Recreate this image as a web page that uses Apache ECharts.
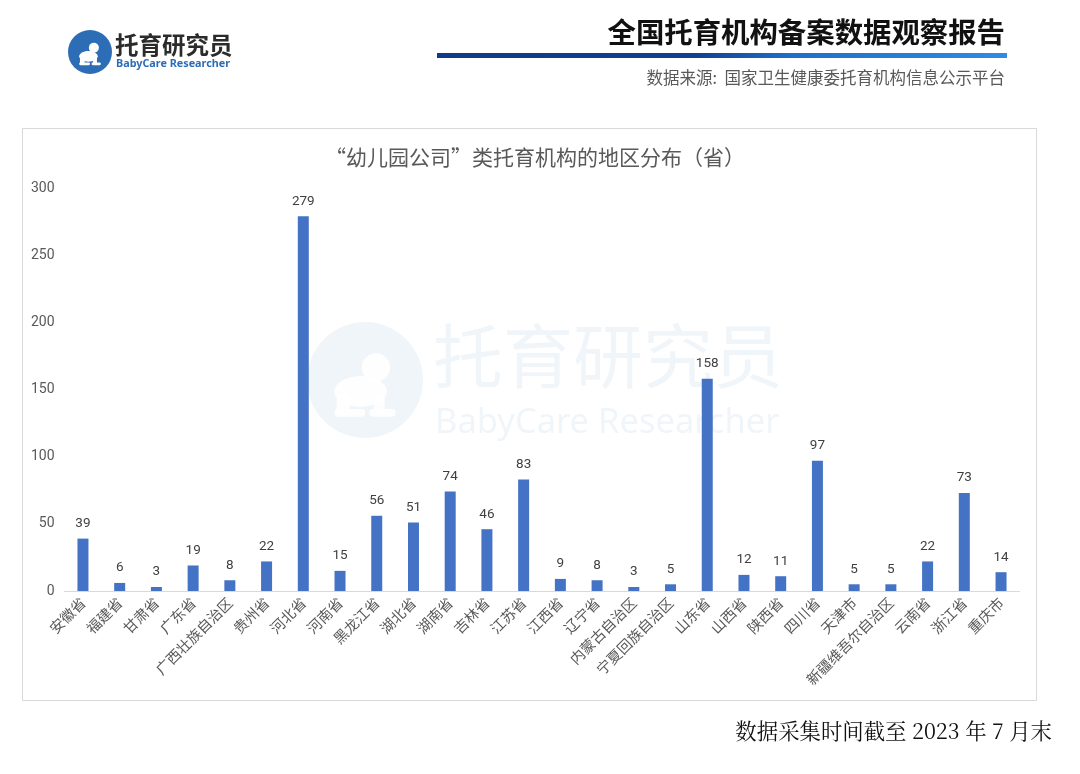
<!DOCTYPE html>
<html><head><meta charset="utf-8">
<script src="https://cdn.jsdelivr.net/npm/echarts@6/dist/echarts.min.js"></script>
<style>html,body{margin:0;padding:0;background:#fff}#c{width:1080px;height:774px}</style>
</head><body><div id="c"></div>
<script>
const categories = ['安徽省','福建省','甘肃省','广东省','广西壮族自治区','贵州省','河北省','河南省','黑龙江省','湖北省','湖南省','吉林省','江苏省','江西省','辽宁省','内蒙古自治区','宁夏回族自治区','山东省','山西省','陕西省','四川省','天津市','新疆维吾尔自治区','云南省','浙江省','重庆市'];
const values = [39,6,3,19,8,22,279,15,56,51,74,46,83,9,8,3,5,158,12,11,97,5,5,22,73,14];
const yTicks = [0,50,100,150,200,250,300];
const chartTitle = '“幼儿园公司”类托育机构的地区分布（省）';
const reportTitle = '全国托育机构备案数据观察报告';
const sourceText = '数据来源:  国家卫生健康委托育机构信息公示平台';
const footerText = '数据采集时间截至 2023 年 7 月末';

const CJK = '"Noto Sans CJK SC","Noto Sans",sans-serif';
const chart = echarts.init(document.getElementById('c'), null, {renderer:'canvas'});

function babyIcon(cx, cy, r, fill, z) {
  const s = r / 22;
  return {
    type: 'group', x: cx, y: cy, z: z, silent: true,
    children: [
      {type:'circle', shape:{cx:5*s, cy:-8*s, r:6.5*s}, style:{fill:fill}},
      {type:'ellipse', shape:{cx:-2*s, cy:3*s, rx:12*s, ry:7*s}, style:{fill:fill}},
      {type:'rect', shape:{x:-13*s, y:4*s, width:6*s, height:9*s, r:2*s}, style:{fill:fill}},
      {type:'rect', shape:{x:4*s, y:4*s, width:5*s, height:9*s, r:2*s}, style:{fill:fill}},
      {type:'rect', shape:{x:-14*s, y:11*s, width:14*s, height:3.5*s, r:1.5*s}, style:{fill:fill}},
      {type:'rect', shape:{x:2*s, y:11*s, width:12*s, height:3.5*s, r:1.5*s}, style:{fill:fill}}
    ]
  };
}

const option = {
  backgroundColor: '#ffffff',
  animation: false,
  title: {
    text: chartTitle, left: 530, top: 142, textAlign: 'center',
    textStyle: {fontFamily: CJK, fontSize: 21, fontWeight: 'normal', color: '#595959'}
  },
  grid: {left: 64.6, right: 60.6, top: 188, bottom: 183, containLabel: false},
  xAxis: {
    type: 'category', data: categories,
    axisLine: {show: true, lineStyle: {color: '#d9d9d9', width: 1}},
    axisTick: {show: false},
    axisLabel: {interval: 0, rotate: 45, margin: 9, fontFamily: CJK, fontSize: 14.5, color: '#595959'}
  },
  yAxis: {
    type: 'value', min: 0, max: 300, interval: 50,
    axisLine: {show: false}, axisTick: {show: false},
    splitLine: {show: false},
    axisLabel: {margin: 10, fontFamily: 'Roboto,"Noto Sans",sans-serif', fontSize: 14, color: '#595959'}
  },
  series: [{
    type: 'bar', data: values, barWidth: 11,
    itemStyle: {color: '#4472C4'},
    label: {show: true, position: 'top', distance: 8, fontFamily: 'Roboto,"Noto Sans",sans-serif', fontSize: 13.5, color: '#404040'},
    z: 3
  }],
  graphic: [
    {type:'rect', shape:{x:22.5, y:128.5, width:1014, height:572}, style:{fill:'none', stroke:'#d9d9d9', lineWidth:1}, z:-10, silent:true},
    // watermark
    {type:'circle', shape:{cx:365, cy:380, r:58}, style:{fill:'rgba(46,109,180,0.07)'}, z:-5, silent:true},
    babyIcon(365, 385, 48, 'rgba(255,255,255,0.9)', -4),
    {type:'text', x:433, y:356, style:{text:'托育研究员', font:'70px ' + CJK, fill:'rgba(46,109,180,0.07)', textVerticalAlign:'middle'}, z:-5, silent:true},
    {type:'text', x:435, y:423, style:{text:'BabyCare Researcher', font:'34.5px "Noto Sans",Roboto,sans-serif', fill:'rgba(46,109,180,0.07)', textVerticalAlign:'middle'}, z:-5, silent:true},
    // logo
    {type:'circle', shape:{cx:90, cy:52, r:22}, style:{fill:'#2d6db5'}, silent:true},
    babyIcon(90, 54, 17, '#ffffff', 2),
    {type:'text', x:115, y:45, style:{text:'托育研究员', font:'bold 23.5px ' + CJK, fill:'#2b2b2b', textVerticalAlign:'middle'}, silent:true},
    {type:'text', x:116, y:64, style:{text:'BabyCare Researcher', font:'bold 10.8px "Noto Sans",Roboto,sans-serif', fill:'#2d6db5', textVerticalAlign:'middle'}, silent:true},
    // report title
    {type:'text', x:1005, y:32, style:{text:reportTitle, font:'bold 28.4px ' + CJK, fill:'#111111', textAlign:'right', textVerticalAlign:'middle'}, silent:true},
    {type:'rect', shape:{x:437, y:53, width:570, height:5},
      style:{fill:new echarts.graphic.LinearGradient(0,0,1,0,[
        {offset:0, color:'#0f3a87'},{offset:0.45, color:'#123f8f'},{offset:0.62, color:'#1e6fc9'},{offset:1, color:'#2f8ae6'}])}, silent:true},
    {type:'text', x:1005, y:78, style:{text:sourceText, font:'16.5px ' + CJK, fill:'#595959', textAlign:'right', textVerticalAlign:'middle'}, silent:true},
    // footer
    {type:'text', x:1052, y:731, style:{text:footerText, font:'21.4px "Noto Serif CJK SC","Liberation Serif","DejaVu Serif",' + CJK, fill:'#111111', textAlign:'right', textVerticalAlign:'middle'}, silent:true}
  ]
};
chart.setOption(option);
</script>
</body></html>
